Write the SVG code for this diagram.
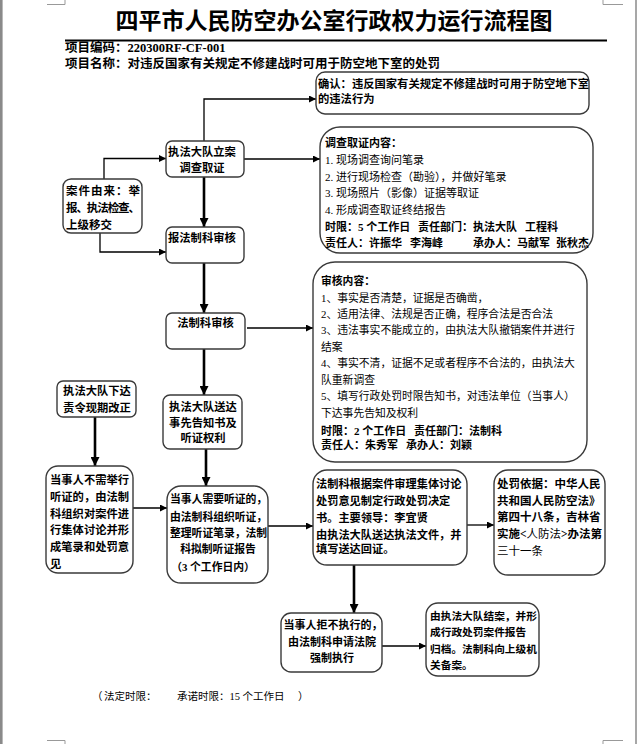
<svg xmlns="http://www.w3.org/2000/svg" width="638" height="744" viewBox="0 0 638 744">
<style>
text{font-family:"Liberation Serif","Noto Sans CJK SC",serif;fill:#000}
.b{font-weight:bold}
.r{font-weight:normal}
.box{fill:#fff;stroke:#3a3a3a;stroke-width:1.4}
.thin{fill:none;stroke:#000;stroke-width:1.3}
.thick{fill:none;stroke:#000;stroke-width:2.6}
.frame{fill:none;stroke:#999;stroke-width:1}
.c{text-anchor:middle}
</style>
<defs>
<marker id="as" markerUnits="userSpaceOnUse" markerWidth="7" markerHeight="7" refX="7" refY="3.5" orient="auto"><path d="M0,0 L7,3.5 L0,7 z" fill="#000"/></marker>
<marker id="al" markerUnits="userSpaceOnUse" markerWidth="9" markerHeight="9" refX="9" refY="4.5" orient="auto"><path d="M0,0 L9,4.5 L0,9 z" fill="#000"/></marker>
</defs>
<rect width="638" height="744" fill="#fff"/>
<g id="page-frame">
<line x1="1.3" y1="0" x2="1.3" y2="744" stroke="#8a8a8a" stroke-width="2.6"/>
<line x1="636" y1="0" x2="636" y2="744" stroke="#8a8a8a" stroke-width="1.5"/>
<polyline class="frame" points="47,4.5 65,4.5 65,0"/>
<polyline class="frame" points="623,4.5 603,4.5 603,0"/>
<polyline class="frame" points="47,740.5 65,740.5 65,744"/>
<polyline class="frame" points="623,740.5 603,740.5 603,744"/>
</g>
<g id="header">
<text class="b c" x="334" y="28.5" font-size="23">四平市人民防空办公室行政权力运行流程图</text>
<line x1="65" y1="40.5" x2="607" y2="40.5" stroke="#000" stroke-width="2.2"/>
<text class="b" x="65" y="51.5" font-size="12.5">项目编码：220300RF-CF-001</text>
<text class="b" x="65" y="67.5" font-size="12.5">项目名称：对违反国家有关规定不修建战时可用于防空地下室的处罚</text>
</g>
<g id="connectors">
<polyline class="thin" points="204,141 204,99 316,99" marker-end="url(#as)"/>
<polyline class="thin" points="104,179 104,158.5 166,158.5" marker-end="url(#as)"/>
<polyline class="thin" points="100,233 100,252 166,252" marker-end="url(#as)"/>
<line class="thin" x1="244" y1="159" x2="320" y2="159" marker-end="url(#as)"/>
<line class="thick" x1="204" y1="177" x2="204" y2="227" marker-end="url(#al)"/>
<line class="thick" x1="204" y1="263" x2="204" y2="313" marker-end="url(#al)"/>
<line class="thin" x1="247" y1="328" x2="313" y2="328" marker-end="url(#as)"/>
<line class="thick" x1="204" y1="349" x2="204" y2="395" marker-end="url(#al)"/>
<line class="thick" x1="95" y1="417" x2="95" y2="466" marker-end="url(#al)"/>
<line class="thin" x1="133" y1="508" x2="167" y2="508" marker-end="url(#as)"/>
<line class="thick" x1="206" y1="449" x2="206" y2="486" marker-end="url(#al)"/>
<line class="thin" x1="268" y1="526" x2="313" y2="526" marker-end="url(#as)"/>
<line class="thin" x1="467" y1="525" x2="494" y2="525" marker-end="url(#as)"/>
<line class="thick" x1="354" y1="565" x2="354" y2="613" marker-end="url(#al)"/>
<line class="thin" x1="382" y1="646" x2="426" y2="646" marker-end="url(#as)"/>
</g>
<g id="node-confirm">
<rect class="box" x="316" y="72" width="273" height="42" rx="9"/>
<text class="b" x="318" y="88.3" font-size="11.3">确认：违反国家有关规定不修建战时可用于防空地下室</text>
<text class="b" x="318" y="103.3" font-size="11.3">的违法行为</text>
</g>
<g id="node-register">
<rect class="box" x="166" y="141" width="78" height="36" rx="6"/>
<text class="b c" x="202" y="156.3" font-size="11.3">执法大队立案</text>
<text class="b c" x="202" y="172.3" font-size="11.3">调查取证</text>
</g>
<g id="node-source">
<rect class="box" x="63" y="179" width="79" height="54" rx="8"/>
<text class="b" x="66" y="194.5" font-size="11.5" textLength="74" lengthAdjust="spacing">案件由来：举</text>
<text class="b" x="66" y="211.5" font-size="11.5" textLength="74" lengthAdjust="spacing">报、执法检查、</text>
<text class="b" x="66" y="228.5" font-size="11.5">上级移交</text>
</g>
<g id="node-report">
<rect class="box" x="166" y="227" width="78" height="36" rx="6"/>
<text class="b" x="168" y="241.5" font-size="11.3">报法制科审核</text>
</g>
<g id="node-investigation">
<rect class="box" x="320" y="127" width="273" height="126" rx="20"/>
<text class="b" x="325" y="147.2" font-size="11">调查取证内容：</text>
<text class="r" x="325" y="164" font-size="11">1. 现场调查询问笔录</text>
<text class="r" x="325" y="180.7" font-size="11">2. 进行现场检查（勘验），并做好笔录</text>
<text class="r" x="325" y="197.3" font-size="11">3. 现场照片（影像）证据等取证</text>
<text class="r" x="325" y="214" font-size="11">4. 形成调查取证终结报告</text>
<text class="b" x="325" y="230.5" font-size="11">时限：5 个工作日<tspan x="418">责任部门：执法大队</tspan><tspan x="525">工程科</tspan></text>
<text class="b" x="325" y="247.2" font-size="11">责任人：许振华<tspan x="410">李海峰</tspan><tspan x="473">承办人：马献军</tspan><tspan x="556">张秋杰</tspan></text>
</g>
<g id="node-legal-review">
<rect class="box" x="166" y="313" width="79" height="36" rx="6"/>
<text class="b c" x="205.5" y="327.3" font-size="11.3">法制科审核</text>
</g>
<g id="node-review-content">
<rect class="box" x="313" y="262" width="274" height="200" rx="22"/>
<text class="b" x="321" y="285.2" font-size="10.8">审核内容：</text>
<text class="r" x="321" y="301.6" font-size="10.8">1、事实是否清楚，证据是否确凿，</text>
<text class="r" x="321" y="318" font-size="10.8">2、适用法律、法规是否正确，程序合法是否合法</text>
<text class="r" x="321" y="334.4" font-size="10.8">3、违法事实不能成立的，由执法大队撤销案件并进行</text>
<text class="r" x="321" y="350.8" font-size="10.8">结案</text>
<text class="r" x="321" y="367.2" font-size="10.8">4、事实不清，证据不足或者程序不合法的，由执法大</text>
<text class="r" x="321" y="383.6" font-size="10.8">队重新调查</text>
<text class="r" x="321" y="400.4" font-size="10.8">5、填写行政处罚时限告知书，对违法单位（当事人）</text>
<text class="r" x="321" y="416.8" font-size="10.8">下达事先告知及权利</text>
<text class="b" x="321" y="434.6" font-size="11">时限：2 个工作日<tspan x="414">责任部门：法制科</tspan></text>
<text class="b" x="321" y="449.4" font-size="11">责任人：朱秀军<tspan x="406">承办人：刘颖</tspan></text>
</g>
<g id="node-correction">
<rect class="box" x="57" y="381" width="79" height="36" rx="6"/>
<text class="b c" x="97" y="395.3" font-size="11.3">执法大队下达</text>
<text class="b c" x="97" y="412.3" font-size="11.3">责令现期改正</text>
</g>
<g id="node-notice">
<rect class="box" x="163" y="395" width="79" height="54" rx="7"/>
<text class="b c" x="203" y="411.3" font-size="11.3">执法大队送达</text>
<text class="b c" x="203" y="427.3" font-size="11.3">事先告知书及</text>
<text class="b c" x="203" y="442.3" font-size="11.3">听证权利</text>
</g>
<g id="node-no-hearing">
<rect class="box" x="46" y="466" width="87" height="107" rx="12"/>
<text class="b" x="50" y="484.3" font-size="11.3">当事人不需举行</text>
<text class="b" x="50" y="501" font-size="11.3">听证的，由法制</text>
<text class="b" x="50" y="517.6" font-size="11.3">科组织对案件进</text>
<text class="b" x="50" y="534.3" font-size="11.3">行集体讨论并形</text>
<text class="b" x="50" y="551" font-size="11.3">成笔录和处罚意</text>
<text class="b" x="50" y="567.6" font-size="11.3">见</text>
</g>
<g id="node-hearing">
<rect class="box" x="167" y="486" width="101" height="97" rx="14"/>
<text class="b" x="170" y="503.2" font-size="10.8">当事人需要听证的，</text>
<text class="b" x="170" y="521.2" font-size="10.8">由法制科组织听证，</text>
<text class="b" x="170" y="537.2" font-size="10.8">整理听证笔录，法制</text>
<text class="b c" x="218" y="553.2" font-size="10.8">科拟制听证报告</text>
<text class="b c" x="213" y="571.2" font-size="10.8">（3 个工作日内）</text>
</g>
<g id="node-decision">
<rect class="box" x="313" y="470" width="154" height="95" rx="14"/>
<text class="b" x="316" y="488.3" font-size="11.2">法制科根据案件审理集体讨论</text>
<text class="b" x="316" y="505.3" font-size="11.2">处罚意见制定行政处罚决定</text>
<text class="b" x="316" y="522.3" font-size="11.2">书。主要领导：李宜贤</text>
<text class="b" x="316" y="539.3" font-size="11.2">由执法大队送达执法文件，并</text>
<text class="b" x="316" y="553.3" font-size="11.2">填写送达回证。</text>
</g>
<g id="node-basis">
<rect class="box" x="494" y="470" width="111" height="105" rx="14"/>
<text class="b" x="497" y="488.4" font-size="11.5">处罚依据：中华人民</text>
<text class="b" x="497" y="505.4" font-size="11.5">共和国人民防空法》</text>
<text class="b" x="497" y="521.4" font-size="11.5">第四十八条，吉林省</text>
<text class="b" x="497" y="538.4" font-size="11.5">实施&lt;<tspan class="r">人防法</tspan>&gt;办法第</text>
<text class="r" x="497" y="555.4" font-size="11.5">三十一条</text>
</g>
<g id="node-enforce">
<rect class="box" x="281" y="613" width="101" height="59" rx="10"/>
<text class="b c" x="333" y="629.3" font-size="11">当事人拒不执行的，</text>
<text class="b c" x="332" y="646.3" font-size="11">由法制科申请法院</text>
<text class="b c" x="332" y="662.3" font-size="11">强制执行</text>
</g>
<g id="node-close">
<rect class="box" x="426" y="603" width="113" height="73" rx="12"/>
<text class="b" x="430" y="620" font-size="10.7">由执法大队结案，并形</text>
<text class="b" x="430" y="636" font-size="10.7">成行政处罚案件报告</text>
<text class="b" x="430" y="653" font-size="10.7">归档。法制科向上级机</text>
<text class="b" x="430" y="669" font-size="10.7">关备案。</text>
</g>
<g id="footer">
<text class="r" x="92" y="700" font-size="10.5">（<tspan x="104">法定时限：</tspan><tspan x="177">承诺时限：15 个工作日</tspan><tspan x="298">）</tspan></text>
</g>
</svg>
